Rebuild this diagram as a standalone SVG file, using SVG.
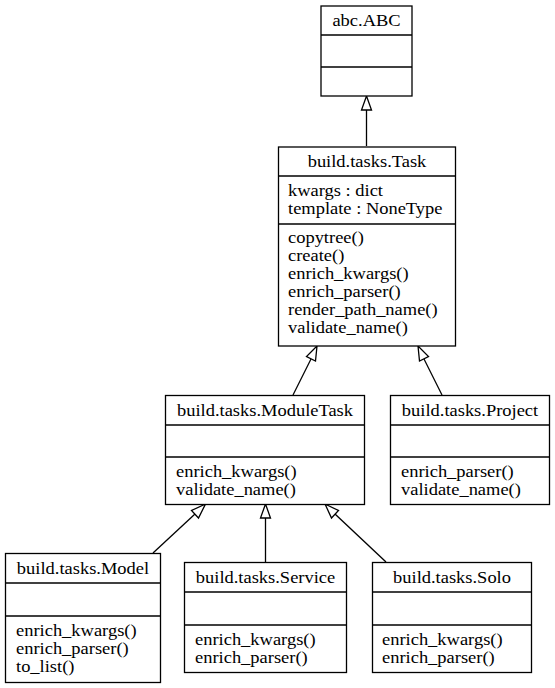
<svg xmlns="http://www.w3.org/2000/svg" width="555" height="688" viewBox="0 0 555 688">
<style>
.box{fill:#fff;stroke:#000;stroke-width:1.3}
.div{stroke:#000;stroke-width:1.3}
text{font-family:"Liberation Serif","Times New Roman",serif;font-size:16.2px;fill:#000}
.t{text-anchor:middle}
.edge{stroke:#000;stroke-width:1.3;fill:none}
.head{fill:#fff;stroke:#000;stroke-width:1.3}
</style>
<rect width="555" height="688" fill="#fff"/>
<g id="edges">
<line class="edge" x1="366.5" y1="146" x2="366.5" y2="110"/>
<polygon class="head" points="366.5,96 361.5,110 371.5,110"/>
<line class="edge" x1="293" y1="395" x2="311" y2="359"/>
<polygon class="head" points="317,346 306.5,356.5 315.5,361"/>
<line class="edge" x1="442" y1="395" x2="424" y2="359"/>
<polygon class="head" points="418,346 419.5,361 428.5,356.5"/>
<line class="edge" x1="153" y1="553" x2="195" y2="514"/>
<polygon class="head" points="205.5,504 191.5,510.5 198.5,518"/>
<line class="edge" x1="265.5" y1="562" x2="265.5" y2="518"/>
<polygon class="head" points="265.5,504 260.5,518 270.5,518"/>
<line class="edge" x1="386" y1="562" x2="335" y2="514"/>
<polygon class="head" points="325,504 331.5,518 338.5,510.5"/>
</g>
<g id="abc">
<rect class="box" x="321" y="6" width="91" height="90"/>
<line class="div" x1="321" y1="35" x2="412" y2="35"/>
<line class="div" x1="321" y1="67" x2="412" y2="67"/>
<text class="t" transform="translate(366.5 26) scale(1.14 1)">abc.ABC</text>
</g>
<g id="task">
<rect class="box" x="278.5" y="147" width="177" height="199"/>
<line class="div" x1="278.5" y1="176" x2="455.5" y2="176"/>
<line class="div" x1="278.5" y1="224" x2="455.5" y2="224"/>
<text class="t" transform="translate(367 166.5) scale(1.14 1)">build.tasks.Task</text>
<text transform="translate(288 196) scale(1.14 1)">kwargs : dict</text>
<text transform="translate(288 214) scale(1.14 1)">template : NoneType</text>
<text transform="translate(288 243) scale(1.14 1)">copytree()</text>
<text transform="translate(288 261) scale(1.14 1)">create()</text>
<text transform="translate(288 279) scale(1.14 1)">enrich_kwargs()</text>
<text transform="translate(288 297) scale(1.14 1)">enrich_parser()</text>
<text transform="translate(288 315) scale(1.14 1)">render_path_name()</text>
<text transform="translate(288 333) scale(1.14 1)">validate_name()</text>
</g>
<g id="moduletask">
<rect class="box" x="165.5" y="395.5" width="199" height="109"/>
<line class="div" x1="165.5" y1="425" x2="364.5" y2="425"/>
<line class="div" x1="165.5" y1="457" x2="364.5" y2="457"/>
<text class="t" transform="translate(265 416) scale(1.14 1)">build.tasks.ModuleTask</text>
<text transform="translate(176 477) scale(1.14 1)">enrich_kwargs()</text>
<text transform="translate(176 495) scale(1.14 1)">validate_name()</text>
</g>
<g id="project">
<rect class="box" x="390.5" y="395.5" width="159" height="109"/>
<line class="div" x1="390.5" y1="425" x2="549.5" y2="425"/>
<line class="div" x1="390.5" y1="457" x2="549.5" y2="457"/>
<text class="t" transform="translate(470 416) scale(1.14 1)">build.tasks.Project</text>
<text transform="translate(401 477) scale(1.14 1)">enrich_parser()</text>
<text transform="translate(401 495) scale(1.14 1)">validate_name()</text>
</g>
<g id="model">
<rect class="box" x="5.5" y="553.5" width="155" height="129"/>
<line class="div" x1="5.5" y1="583" x2="160.5" y2="583"/>
<line class="div" x1="5.5" y1="616" x2="160.5" y2="616"/>
<text class="t" transform="translate(83 574) scale(1.14 1)">build.tasks.Model</text>
<text transform="translate(16 636) scale(1.14 1)">enrich_kwargs()</text>
<text transform="translate(16 654) scale(1.14 1)">enrich_parser()</text>
<text transform="translate(16 672) scale(1.14 1)">to_list()</text>
</g>
<g id="service">
<rect class="box" x="184.5" y="562.5" width="162" height="110"/>
<line class="div" x1="184.5" y1="592" x2="346.5" y2="592"/>
<line class="div" x1="184.5" y1="625" x2="346.5" y2="625"/>
<text class="t" transform="translate(265.5 583) scale(1.14 1)">build.tasks.Service</text>
<text transform="translate(195 645) scale(1.14 1)">enrich_kwargs()</text>
<text transform="translate(195 663) scale(1.14 1)">enrich_parser()</text>
</g>
<g id="solo">
<rect class="box" x="372.5" y="562.5" width="159" height="110"/>
<line class="div" x1="372.5" y1="592" x2="531.5" y2="592"/>
<line class="div" x1="372.5" y1="625" x2="531.5" y2="625"/>
<text class="t" transform="translate(452 583) scale(1.14 1)">build.tasks.Solo</text>
<text transform="translate(382 645) scale(1.14 1)">enrich_kwargs()</text>
<text transform="translate(382 663) scale(1.14 1)">enrich_parser()</text>
</g>
</svg>
